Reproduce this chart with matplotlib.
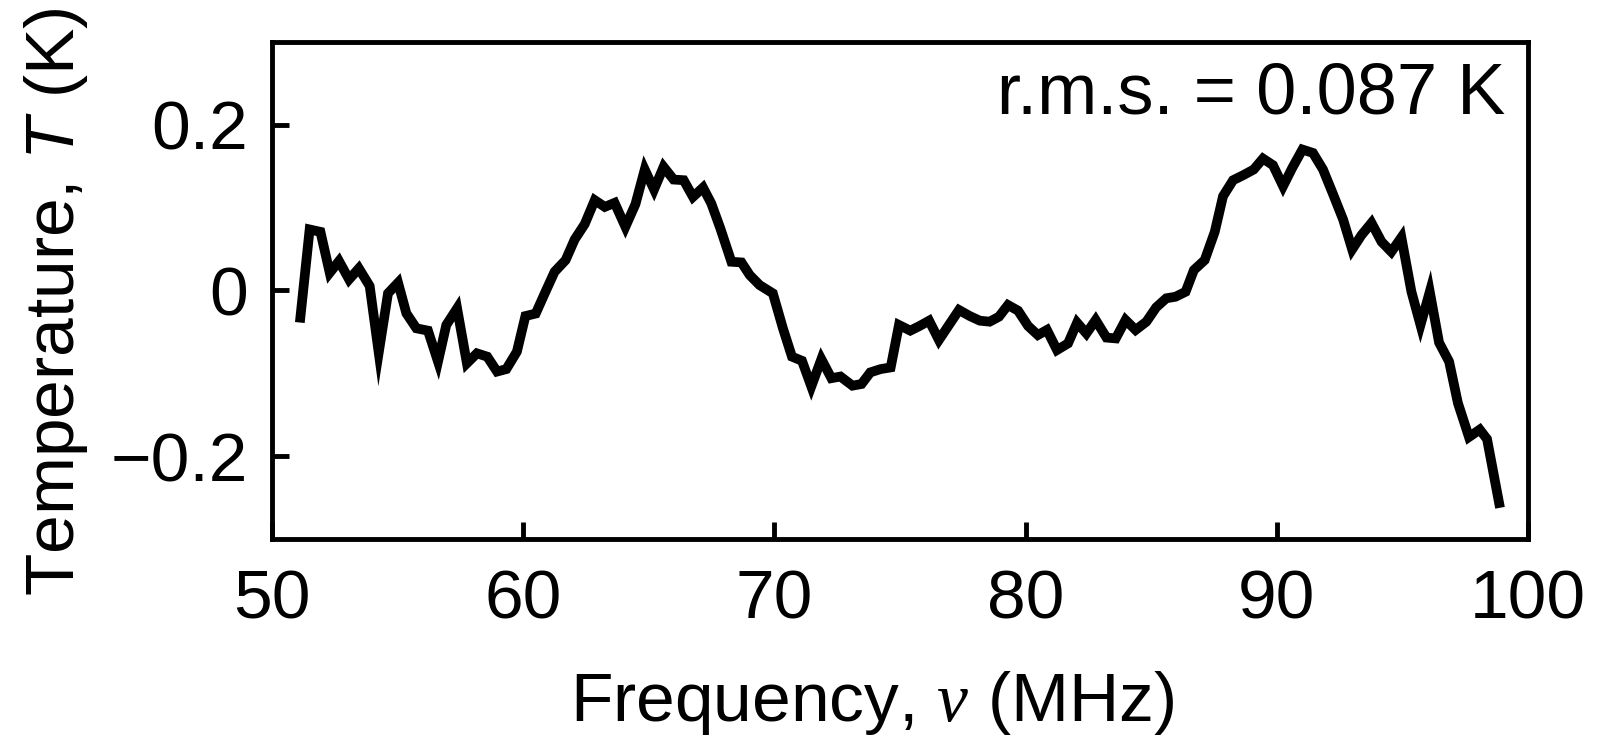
import matplotlib
matplotlib.use("Agg")
import matplotlib.pyplot as plt

plt.rcParams['font.family'] = ['Liberation Sans', 'DejaVu Sans']
plt.rcParams['mathtext.fontset'] = 'custom'
plt.rcParams['mathtext.it'] = 'Liberation Sans:italic'
plt.rcParams['mathtext.rm'] = 'Liberation Sans'
plt.rcParams['mathtext.sf'] = 'Liberation Serif:italic'

# residual spectrum
freq = [51.13, 51.5, 51.93, 52.3, 52.67, 53.07, 53.46, 53.89, 54.25, 54.62,
        55.02, 55.35, 55.75, 56.21, 56.61, 56.94, 57.37, 57.76, 58.16, 58.57,
        58.96, 59.33, 59.75, 60.09, 60.5, 60.86, 61.25, 61.69, 62.05, 62.45,
        62.85, 63.25, 63.64, 64.07, 64.47, 64.84, 65.21, 65.59, 65.99, 66.39,
        66.76, 67.16, 67.49, 67.85, 68.29, 68.69, 69.02, 69.41, 69.94, 70.34,
        70.7, 71.1, 71.47, 71.87, 72.27, 72.63, 73.11, 73.47, 73.82, 74.23,
        74.63, 74.96, 75.41, 75.78, 76.16, 76.55, 76.95, 77.35, 77.78, 78.18,
        78.57, 78.94, 79.3, 79.7, 80.1, 80.49, 80.85, 81.25, 81.69, 82.05,
        82.42, 82.79, 83.22, 83.59, 83.98, 84.38, 84.81, 85.2, 85.6, 85.97,
        86.37, 86.7, 87.13, 87.53, 87.86, 88.26, 88.66, 89.08, 89.45, 89.85,
        90.25, 90.62, 91.02, 91.44, 91.84, 92.24, 92.64, 93.0, 93.37, 93.77,
        94.17, 94.56, 94.96, 95.36, 95.72, 96.09, 96.46, 96.86, 97.21, 97.65,
        98.08, 98.37, 98.85]
temp = [-0.033, 0.0735, 0.0706, 0.0212, 0.0353, 0.0132, 0.0265, 0.0052, -0.0752, -0.0036,
        0.0092, -0.0277, -0.0458, -0.0486, -0.086, -0.0418, -0.0217, -0.088, -0.076, -0.08,
        -0.098, -0.095, -0.074, -0.031, -0.028, -0.0036, 0.0224, 0.0365, 0.0614, 0.0799,
        0.1088, 0.1007, 0.1056, 0.0767, 0.104, 0.1458, 0.1217, 0.149, 0.1337, 0.1329,
        0.1128, 0.124, 0.1048, 0.0747, 0.0345, 0.0337, 0.0184, 0.0064, -0.0036, -0.0458,
        -0.08, -0.085, -0.116, -0.083, -0.106, -0.104, -0.115, -0.113, -0.099, -0.095,
        -0.093, -0.0418, -0.0486, -0.043, -0.0366, -0.0599, -0.0418, -0.0237, -0.031, -0.0366,
        -0.0378, -0.0318, -0.0177, -0.0245, -0.043, -0.0539, -0.0478, -0.072, -0.064, -0.039,
        -0.052, -0.0358, -0.057, -0.058, -0.0358, -0.0478, -0.0378, -0.0205, -0.0096, -0.0077,
        -0.0017, 0.0245, 0.0365, 0.0706, 0.1136, 0.1329, 0.1389, 0.1458, 0.159, 0.151,
        0.1257, 0.148, 0.1699, 0.1658, 0.1458, 0.116, 0.0855, 0.0494, 0.0666, 0.0814,
        0.0586, 0.0465, 0.0639, -0.0017, -0.0418, -0.0017, -0.063, -0.086, -0.136, -0.177,
        -0.168, -0.1795, -0.2566]

xticks = [50, 60, 70, 80, 90, 100]
yticks = [-0.2, 0, 0.2]
ytick_labels = ['\u22120.2', '0', '0.2']

fig = plt.figure(figsize=(16.13, 7.36), dpi=100)
ax = fig.add_axes([0.1686, 0.2677, 0.9473 - 0.1686, 0.9433 - 0.2677])

ax.plot(freq, temp, color='black', lw=7, solid_joinstyle='miter')

ax.set_xlim(50, 100)
ax.set_ylim(-0.3, 0.3)
ax.set_xticks(xticks)
ax.set_yticks(yticks)
ax.set_yticklabels(ytick_labels)

for s in ax.spines.values():
    s.set_linewidth(3.5)
ax.tick_params(direction='in', length=12, width=3.5, labelsize=50)
ax.tick_params(axis='x', pad=21)
ax.tick_params(axis='y', pad=17)

ax.set_xlabel(r'Frequency, $\mathsf{\nu}$ (MHz)', fontsize=50)
ax.xaxis.label.set_va('baseline')
ax.xaxis.set_label_coords(0.478, -0.366)

ax.set_ylabel(r'Temperature, $T$ (K)', fontsize=50)
ax.yaxis.label.set_va('baseline')
ax.yaxis.set_label_coords(-0.1576, 0.4767)

ax.text(0.9817, 0.8566, 'r.m.s. = 0.087 K', transform=ax.transAxes,
        ha='right', va='baseline', fontsize=52)

fig.savefig('out.png', dpi=100)
